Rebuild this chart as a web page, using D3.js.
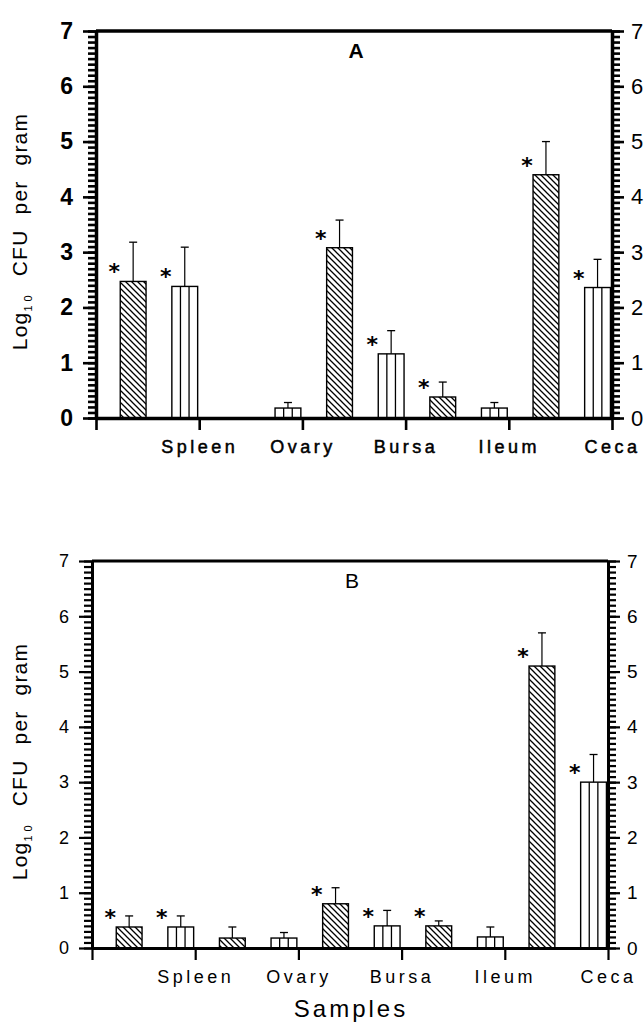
<!DOCTYPE html>
<meta charset="utf-8">
<style>
body { margin: 0; background: #fff; }
svg { display: block; }
</style>
<svg width="644" height="1025"></svg>
<script src="https://d3js.org/d3.v7.min.js"></script>
<script>

// organs (label sits under the tick at the right end of each pair)
var organs = ["Spleen", "Ovary", "Bursa", "Ileum", "Ceca"];
var series = ["diag", "vert"];
var yTicks = [0, 1, 2, 3, 4, 5, 6, 7];

// panel A
var aDiag     = [2.47, null, 3.08, 0.38, 4.40];
var aDiagErr  = [3.18, null, 3.58, 0.65, 5.00];
var aVert     = [2.38, 0.18, 1.16, 0.18, 2.36];
var aVertErr  = [3.09, 0.28, 1.58, 0.28, 2.87];
var aDiagStar = [true, false, true, true, true];
var aVertStar = [true, false, true, false, true];

// panel B
var bDiag     = [0.38, 0.18, 0.80, 0.40, 5.10];
var bDiagErr  = [0.58, 0.38, 1.09, 0.49, 5.70];
var bVert     = [0.38, 0.18, 0.40, 0.20, 3.00];
var bVertErr  = [0.58, 0.28, 0.68, 0.38, 3.50];
var bDiagStar = [true, false, true, true, true];
var bVertStar = [true, false, true, false, true];

var svg = d3.select("svg");
var font = "'Liberation Sans', Arial, sans-serif";

var defs = svg.append("defs");
defs.append("pattern")
    .attr("id", "diag")
    .attr("patternUnits", "userSpaceOnUse")
    .attr("width", 6)
    .attr("height", 6)
  .append("path")
    .attr("d", "M-1,-1 L7,7 M-1,5 L1,7 M5,-1 L7,1")
    .attr("stroke", "#000")
    .attr("stroke-width", 1.3);

function panel(p) {
  var g = svg.append("g");

  var y = d3.scaleLinear().domain([0, 7]).range([p.y0, p.y1]);
  var x = d3.scaleBand().domain(organs).range([p.x0, p.x1]).padding(0);
  var xs = d3.scaleBand().domain(series).range([0, x.bandwidth()]);
  var xt = d3.scaleLinear().domain([0, organs.length]).range([p.x0, p.x1]);

  var rows = [];
  organs.forEach(function(o, i) {
    series.forEach(function(s) {
      if (p.vals[s][i] == null) return;
      rows.push({organ: o, s: s, v: p.vals[s][i], e: p.errs[s][i], star: p.stars[s][i]});
    });
  });

  var bw = xs.bandwidth() * 0.5;
  function bx(d) { return x(d.organ) + xs(d.s) + xs.bandwidth() * 0.47; }

  var bars = g.append("g").selectAll("g").data(rows).enter().append("g");

  bars.append("rect")
      .attr("x", bx)
      .attr("y", function(d) { return y(d.v); })
      .attr("width", bw)
      .attr("height", function(d) { return y(0) - y(d.v); })
      .attr("fill", function(d) { return d.s == "diag" ? "url(#diag)" : "#fff"; })
      .attr("stroke", "#000")
      .attr("stroke-width", 1.4);

  // vertical hatch: two inner lines
  bars.filter(function(d) { return d.s == "vert"; })
    .selectAll("line.in")
    .data(function(d) { return [1 / 3, 2 / 3].map(function(f) { return {d: d, f: f}; }); })
    .enter().append("line")
      .attr("class", "in")
      .attr("x1", function(k) { return bx(k.d) + bw * k.f; })
      .attr("x2", function(k) { return bx(k.d) + bw * k.f; })
      .attr("y1", function(k) { return y(k.d.v); })
      .attr("y2", y(0))
      .attr("stroke", "#000")
      .attr("stroke-width", 1.3);

  // error bars (upper only)
  bars.append("line")
      .attr("x1", function(d) { return bx(d) + bw / 2; })
      .attr("x2", function(d) { return bx(d) + bw / 2; })
      .attr("y1", function(d) { return y(d.v); })
      .attr("y2", function(d) { return y(d.e); })
      .attr("stroke", "#000")
      .attr("stroke-width", 1.2);
  bars.append("line")
      .attr("x1", function(d) { return bx(d) + bw / 2 - 4; })
      .attr("x2", function(d) { return bx(d) + bw / 2 + 4; })
      .attr("y1", function(d) { return y(d.e); })
      .attr("y2", function(d) { return y(d.e); })
      .attr("stroke", "#000")
      .attr("stroke-width", 1.3);

  bars.filter(function(d) { return d.star; }).append("text")
      .attr("x", function(d) { return bx(d) - 6; })
      .attr("y", function(d) { return y(d.v) - 2; })
      .attr("text-anchor", "middle")
      .attr("font-family", "'DejaVu Sans', sans-serif")
      .attr("font-weight", "bold")
      .attr("font-size", 22)
      .text("*");

  var minor = d3.range(0, 71).map(function(i) { return i / 10; });

  function styleAxis(a, labelSize, weight) {
    a.attr("font-family", font).attr("font-size", labelSize).attr("font-weight", weight);
    a.selectAll("line").attr("stroke-width", p.tw);
    a.select(".domain").attr("stroke-width", p.aw);
  }

  // left axis
  g.append("g")
      .attr("transform", "translate(" + p.x0 + ",0)")
      .call(d3.axisLeft(y).tickValues(minor).tickSize(8).tickFormat(""))
      .call(function(a) { a.select(".domain").remove(); a.selectAll("line").attr("stroke-width", p.tw); });
  g.append("g")
      .attr("transform", "translate(" + p.x0 + ",0)")
      .call(d3.axisLeft(y).tickValues(yTicks).tickSize(13).tickSizeOuter(0).tickPadding(10).tickFormat(d3.format("d")))
      .call(styleAxis, p.leftSize, p.leftWeight);

  // right axis
  g.append("g")
      .attr("transform", "translate(" + p.x1 + ",0)")
      .call(d3.axisRight(y).tickValues(minor).tickSize(8).tickFormat(""))
      .call(function(a) { a.select(".domain").remove(); a.selectAll("line").attr("stroke-width", p.tw); });
  g.append("g")
      .attr("transform", "translate(" + p.x1 + ",0)")
      .call(d3.axisRight(y).tickValues(yTicks).tickSize(12).tickSizeOuter(0).tickPadding(7).tickFormat(d3.format("d")))
      .call(styleAxis, p.rightSize, "normal");

  // top frame
  g.append("line")
      .attr("x1", p.x0).attr("x2", p.x1)
      .attr("y1", y(7)).attr("y2", y(7))
      .attr("stroke", "#000")
      .attr("stroke-width", p.aw);

  // bottom axis
  g.append("g")
      .attr("transform", "translate(0," + y(0) + ")")
      .call(d3.axisBottom(xt).tickValues(d3.range(0, organs.length + 1)).tickSize(12).tickSizeOuter(0).tickPadding(10)
        .tickFormat(function(i) { return i ? organs[i - 1] : ""; }))
      .call(styleAxis, 18, "normal")
      .call(function(a) {
        a.selectAll("text").attr("letter-spacing", 3.5)
          .attr("stroke", p.labelStroke ? "#000" : null)
          .attr("stroke-width", p.labelStroke);
      });

  // panel letter
  g.append("text")
      .attr("x", p.letterX)
      .attr("y", y(7) + 27)
      .attr("text-anchor", "middle")
      .attr("font-family", font)
      .attr("font-weight", p.leftWeight)
      .attr("font-size", 21)
      .text(p.letter);

  // y title
  var t = g.append("text")
      .attr("transform", "translate(27," + ((y(0) + y(7)) / 2 + 7) + ") rotate(-90)")
      .attr("text-anchor", "middle")
      .attr("font-family", font)
      .attr("font-size", 21)
      .attr("letter-spacing", 1.2)
      .attr("word-spacing", 8);
  t.append("tspan").text("Log");
  t.append("tspan").attr("font-size", 11).attr("dy", 5).attr("letter-spacing", 4).text("10");
  t.append("tspan").attr("dy", -5).text(" CFU per gram");
}

panel({
  x0: 96, x1: 612, y0: 418, y1: 31,
  vals: {diag: aDiag, vert: aVert},
  errs: {diag: aDiagErr, vert: aVertErr},
  stars: {diag: aDiagStar, vert: aVertStar},
  tw: 2.6, aw: 3.5, leftSize: 23, leftWeight: "bold", rightSize: 22,
  labelStroke: 0.5, letter: "A", letterX: 356
});

panel({
  x0: 92, x1: 608, y0: 948, y1: 561,
  vals: {diag: bDiag, vert: bVert},
  errs: {diag: bDiagErr, vert: bVertErr},
  stars: {diag: bDiagStar, vert: bVertStar},
  tw: 2.2, aw: 3, leftSize: 18, leftWeight: "normal", rightSize: 19,
  labelStroke: 0, letter: "B", letterX: 352
});

svg.append("text")
    .attr("x", 351)
    .attr("y", 1017)
    .attr("text-anchor", "middle")
    .attr("font-family", font)
    .attr("font-size", 24)
    .attr("letter-spacing", 3)
    .text("Samples");

</script>
